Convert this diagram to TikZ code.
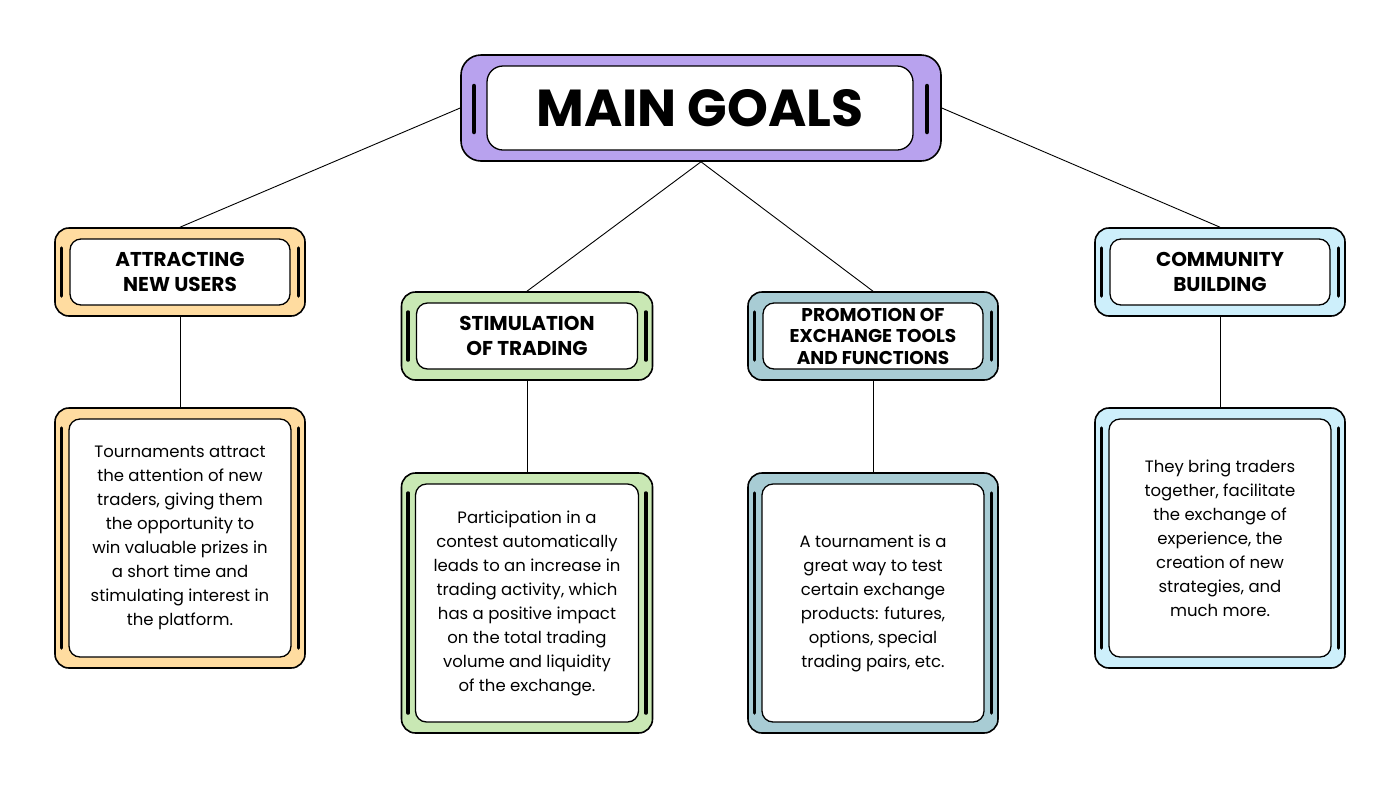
\documentclass[tikz,border=0pt]{standalone}
\usepackage{fontspec}
\setmainfont{Poppins}
\begin{document}
\begin{tikzpicture}[x=1pt,y=-1pt,
  outer/.style={draw=black,line width=1.6pt,rounded corners=14pt,inner sep=0pt},
  inner/.style={draw=black,line width=1.3pt,rounded corners=11pt,fill=white,inner sep=0pt,align=center},
  bar/.style={line width=3.5pt,line cap=round},
  link/.style={line width=0.9pt}]
\useasboundingbox[fill=white] (0,0) rectangle (1400,788);
\newcommand\gbox[9]{%
  \node[outer,fill=#6,minimum width=#4,minimum height=#5] (#1) at (#2,#3) {};
  \node[inner,minimum width=#4-2*#7,minimum height=#5-22,font=#9] (#1i) at (#2,#3) {#8};
  \draw[bar] ([xshift=7.5pt,yshift=#5/2-20]#1.west) -- ([xshift=7.5pt,yshift=-#5/2+20]#1.west);
  \draw[bar] ([xshift=-7.5pt,yshift=#5/2-20]#1.east) -- ([xshift=-7.5pt,yshift=-#5/2+20]#1.east);
}
\definecolor{cmain}{HTML}{B8A2EE}
\definecolor{cyel}{HTML}{FFDCA0}
\definecolor{cgrn}{HTML}{C9E8B4}
\definecolor{cteal}{HTML}{A8CCD4}
\definecolor{cblue}{HTML}{CDEFFB}
\def\tf{\fontsize{20}{25}\selectfont\bfseries}
\def\df{\fontsize{16.5}{24}\selectfont}
\node[outer,fill=cmain,minimum width=480,minimum height=106,rounded corners=20pt] (main) at (701,108) {};
\node[inner,minimum width=426,minimum height=84,rounded corners=16pt,font=\fontsize{52}{58}\selectfont\bfseries] (maini) at (700,108) {MAIN GOALS};
\draw[line width=4.5pt,line cap=round] (474,86) -- (474,132);
\draw[line width=4.5pt,line cap=round] (927,86) -- (927,132);
\gbox{att}{180}{272}{250}{88}{cyel}{15}{ATTRACTING\\NEW USERS}{\tf}
\gbox{attd}{180}{538}{250}{260}{cyel}{14}{Tournaments attract\\the attention of new\\traders, giving them\\the opportunity to\\win valuable prizes in\\a short time and\\stimulating interest in\\the platform.}{\df}
\gbox{sti}{527}{336}{251}{88}{cgrn}{15}{STIMULATION\\OF TRADING}{\tf}
\gbox{stid}{527}{603}{251}{260}{cgrn}{14}{Participation in a\\contest automatically\\leads to an increase in\\trading activity, which\\has a positive impact\\on the total trading\\volume and liquidity\\of the exchange.}{\df}
\gbox{pro}{873}{336}{250}{88}{cteal}{15}{PROMOTION OF\\EXCHANGE TOOLS\\AND FUNCTIONS}{\fontsize{18.5}{21.5}\selectfont\bfseries}
\gbox{prod}{873}{603}{250}{260}{cteal}{14}{A tournament is a\\great way to test\\certain exchange\\products: futures,\\options, special\\trading pairs, etc.}{\df}
\gbox{com}{1220}{272}{250}{88}{cblue}{15}{COMMUNITY\\BUILDING}{\tf}
\gbox{comd}{1220}{538}{250}{260}{cblue}{14}{They bring traders\\together, facilitate\\the exchange of\\experience, the\\creation of new\\strategies, and\\much more.}{\df}
\draw[link] (main.west) -- (att.north);
\draw[link] (main.east) -- (com.north);
\draw[link] (main.south) -- (sti.north);
\draw[link] (main.south) -- (pro.north);
\draw[link] (att.south) -- (attd.north);
\draw[link] (sti.south) -- (stid.north);
\draw[link] (pro.south) -- (prod.north);
\draw[link] (com.south) -- (comd.north);
\end{tikzpicture}
\end{document}
